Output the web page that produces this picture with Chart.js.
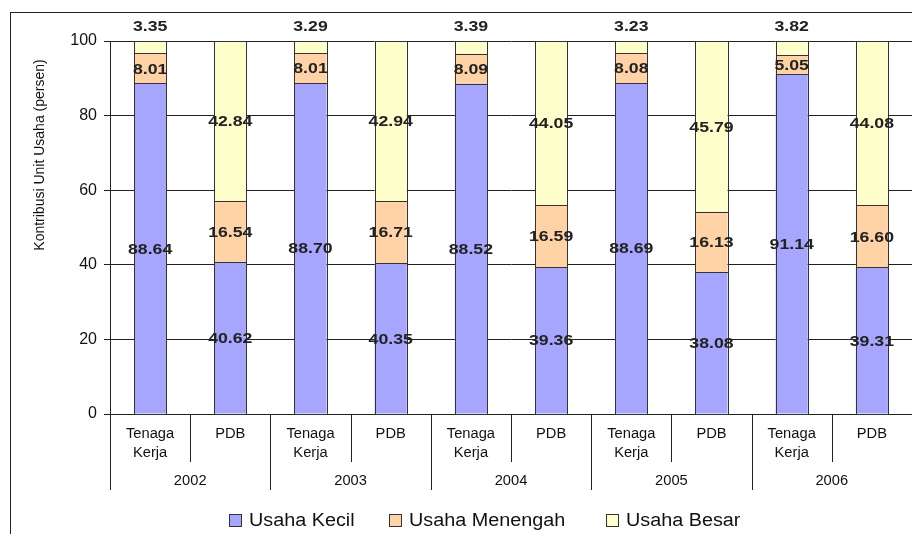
<!DOCTYPE html>
<html>
<head>
<meta charset="utf-8">
<script src="https://cdn.jsdelivr.net/npm/chart.js@4"></script>
<style>
body { margin: 0; background: #fff; }
</style>
</head>
<body>
<canvas id="myChart" width="912" height="534"></canvas>
<script>
const categories = ['Tenaga Kerja', 'PDB', 'Tenaga Kerja', 'PDB', 'Tenaga Kerja', 'PDB', 'Tenaga Kerja', 'PDB', 'Tenaga Kerja', 'PDB'];
const years = ['2002', '2003', '2004', '2005', '2006'];
const usahaKecil = [88.64, 40.62, 88.70, 40.35, 88.52, 39.36, 88.69, 38.08, 91.14, 39.31];
const usahaMenengah = [8.01, 16.54, 8.01, 16.71, 8.09, 16.59, 8.08, 16.13, 5.05, 16.60];
const usahaBesar = [3.35, 42.84, 3.29, 42.94, 3.39, 44.05, 3.23, 45.79, 3.82, 44.08];
const seriesNames = ['Usaha Kecil', 'Usaha Menengah', 'Usaha Besar'];
const colors = ['#a6a6ff', '#ffd3a6', '#ffffcc'];

const FONT = '"Liberation Sans", Arial, sans-serif';

// text slightly stretched wide, like the original picture
function stretchText(ctx, text, x, y, sx) {
    ctx.save();
    ctx.translate(x, y);
    ctx.scale(sx, 1);
    ctx.fillText(text, 0, 0);
    ctx.restore();
}

const decorPlugin = {
    id: 'decor',
    beforeDraw(chart) {
        let ctx = chart.ctx;
        ctx.save();
        ctx.fillStyle = '#fff';
        ctx.fillRect(0, 0, chart.width, chart.height);
        ctx.strokeStyle = '#222';
        ctx.lineWidth = 1;
        ctx.strokeRect(10.5, 12.5, 1000, 1000);
        ctx.restore();
    },
    afterDatasetsDraw(chart) {
        // crisp dark outline round every segment
        let ctx = chart.ctx;
        ctx.save();
        ctx.strokeStyle = '#333';
        ctx.lineWidth = 1;
        chart.data.datasets.forEach((ds, d) => {
            chart.getDatasetMeta(d).data.forEach(bar => {
                let l = Math.round(bar.x - bar.width / 2) + 0.5;
                let r = Math.round(bar.x + bar.width / 2) + 0.5;
                let t = Math.round(bar.y) + 0.5;
                let b = Math.round(bar.base) + 0.5;
                ctx.strokeRect(l, t, r - l, b - t);
            });
        });
        ctx.restore();
    },
    afterDraw(chart) {
        let ctx = chart.ctx;
        let xs = chart.scales.x;
        let area = chart.chartArea;
        let w = (area.right - area.left) / categories.length;
        ctx.save();

        // data labels
        ctx.fillStyle = '#222';
        ctx.font = 'bold 15px ' + FONT;
        ctx.textAlign = 'center';
        ctx.textBaseline = 'middle';
        chart.data.datasets.forEach((ds, d) => {
            let meta = chart.getDatasetMeta(d);
            meta.data.forEach((bar, i) => {
                let y = (bar.y + bar.base) / 2;
                if (d === 2 && i % 2 === 0) y = bar.y - 15;
                stretchText(ctx, ds.data[i].toFixed(2), bar.x, y + 1, 1.18);
            });
        });

        // two level category axis
        ctx.strokeStyle = '#222';
        ctx.lineWidth = 1;
        ctx.fillStyle = '#111';
        ctx.font = '14px ' + FONT;
        for (let i = 0; i < categories.length; i++) {
            let cx = xs.getPixelForValue(i);
            if (categories[i] === 'PDB') {
                stretchText(ctx, 'PDB', cx, 434, 1.05);
            } else {
                let parts = categories[i].split(' ');
                stretchText(ctx, parts[0], cx, 434, 1.05);
                stretchText(ctx, parts[1], cx, 453, 1.05);
            }
            let sx = Math.round(cx - w / 2) + 0.5;
            let bottom = (i % 2 === 0) ? 490 : 462;
            ctx.beginPath();
            ctx.moveTo(sx, area.bottom);
            ctx.lineTo(sx, bottom);
            ctx.stroke();
        }
        for (let k = 0; k < years.length; k++) {
            let cx = (xs.getPixelForValue(2 * k) + xs.getPixelForValue(2 * k + 1)) / 2;
            stretchText(ctx, years[k], cx, 481, 1.05);
        }

        // y title
        ctx.save();
        ctx.translate(40, 155);
        ctx.rotate(-Math.PI / 2);
        ctx.font = '14px ' + FONT;
        ctx.fillText('Kontribusi Unit Usaha (persen)', 0, 0);
        ctx.restore();

        // legend
        let legX = [229, 389, 606];
        ctx.font = '18px ' + FONT;
        ctx.textAlign = 'left';
        for (let s = 0; s < 3; s++) {
            ctx.fillStyle = colors[s];
            ctx.fillRect(legX[s] + 0.5, 514.5, 12, 12);
            ctx.strokeStyle = '#333';
            ctx.strokeRect(legX[s] + 0.5, 514.5, 12, 12);
            ctx.fillStyle = '#111';
            stretchText(ctx, seriesNames[s], legX[s] + 20, 521, 1.1);
        }
        ctx.restore();
    }
};

const ctx = document.getElementById('myChart').getContext('2d');
const myChart = new Chart(ctx, {
    type: 'bar',
    data: {
        labels: categories,
        datasets: [
            { label: seriesNames[0], data: usahaKecil, backgroundColor: colors[0] },
            { label: seriesNames[1], data: usahaMenengah, backgroundColor: colors[1] },
            { label: seriesNames[2], data: usahaBesar, backgroundColor: colors[2] }
        ].map(ds => Object.assign(ds, {
            borderWidth: 0,
            categoryPercentage: 1,
            barPercentage: 0.4
        }))
    },
    options: {
        responsive: false,
        animation: false,
        layout: { padding: { top: 41, bottom: 40, left: 0, right: 0 } },
        plugins: {
            legend: { display: false },
            tooltip: { enabled: false }
        },
        scales: {
            x: {
                stacked: true,
                ticks: { display: false },
                grid: { display: false },
                border: { color: '#222' },
                afterFit: scale => { scale.height = 80; }
            },
            y: {
                stacked: true,
                min: 0,
                max: 100,
                ticks: { stepSize: 20, color: '#111', font: { family: FONT, size: 16 }, padding: 7 },
                grid: { color: '#222', tickLength: 6 },
                border: { color: '#222' },
                afterFit: scale => { scale.width = 110; }
            }
        }
    },
    plugins: [decorPlugin]
});
</script>
</body>
</html>
